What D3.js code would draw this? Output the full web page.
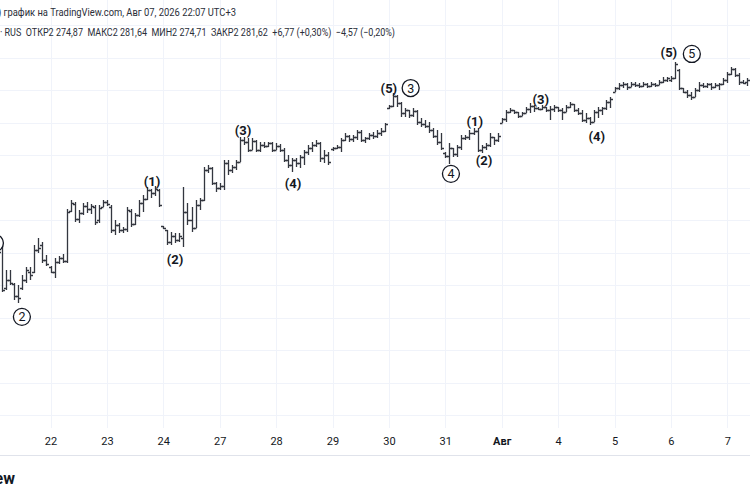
<!DOCTYPE html>
<html>
<head>
<meta charset="utf-8">
<script src="https://cdn.jsdelivr.net/npm/d3@7"></script>
<style>
  body { margin: 0; background: #fff; }
  svg { display: block; font-family: Roboto, "Liberation Sans", sans-serif; }
  .hdr { white-space: pre; }
</style>
</head>
<body>
<div id="chart"></div>
<script>
// hourly OHLC bars, one array per session day: [open, high, low, close]
const jul21 = [
  [2225.2, 2228.3, 2224.6, 2227.7], [2227.7, 2230.8, 2227.1, 2230.2], [2232.3, 2233.9, 2217.8, 2218.5],
  [2219.1, 2224.6, 2218.5, 2221.5], [2221.5, 2224.6, 2220.0, 2220.6], [2220.3, 2220.6, 2215.4, 2216.6],
  [2216.6, 2220.0, 2214.5, 2216.0], [2219.1, 2223.1, 2218.5, 2221.5], [2221.5, 2225.5, 2220.6, 2224.6],
  [2224.0, 2225.5, 2221.5, 2223.1], [2224.0, 2232.3, 2223.7, 2230.8], [2230.8, 2234.5, 2229.8, 2231.4],
  [2232.3, 2233.2, 2226.8, 2227.7], [2227.7, 2229.2, 2225.8, 2226.5]
];
const jul22 = [
  [2225.5, 2225.8, 2223.7, 2224.0], [2224.0, 2228.3, 2222.2, 2227.1], [2227.1, 2228.9, 2226.5, 2228.3],
  [2228.3, 2229.5, 2226.8, 2227.4], [2227.4, 2243.4, 2226.8, 2242.5], [2242.8, 2246.2, 2242.5, 2245.2],
  [2244.9, 2245.5, 2239.4, 2240.3], [2240.3, 2243.1, 2239.1, 2242.2], [2242.2, 2245.2, 2241.5, 2244.3],
  [2244.3, 2245.5, 2242.2, 2243.4], [2243.4, 2244.9, 2241.8, 2244.3], [2244.0, 2244.6, 2238.5, 2239.4],
  [2240.0, 2244.6, 2239.1, 2243.7], [2244.0, 2246.2, 2243.9, 2245.5]
];
const jul23 = [
  [2245.5, 2246.2, 2244.3, 2244.9], [2244.0, 2244.6, 2236.0, 2236.9], [2236.9, 2240.0, 2235.4, 2238.5],
  [2238.5, 2239.1, 2236.0, 2236.9], [2236.9, 2237.8, 2236.0, 2237.2], [2237.2, 2244.0, 2236.3, 2243.1],
  [2242.8, 2243.3, 2237.8, 2238.8], [2238.8, 2242.2, 2238.5, 2241.5], [2241.5, 2246.2, 2240.9, 2245.2],
  [2245.2, 2247.7, 2242.5, 2246.5], [2246.5, 2250.2, 2246.2, 2249.2], [2249.2, 2249.5, 2246.8, 2248.3],
  [2248.3, 2250.5, 2247.4, 2249.5], [2249.2, 2249.5, 2244.0, 2244.6]
];
const jul24 = [
  [2238.1, 2238.3, 2237.2, 2237.5], [2236.9, 2237.0, 2232.3, 2233.2], [2233.2, 2236.3, 2232.3, 2235.1],
  [2235.1, 2236.0, 2232.9, 2233.8], [2233.8, 2236.0, 2233.2, 2235.1], [2234.5, 2250.2, 2231.7, 2242.5],
  [2242.5, 2245.2, 2238.5, 2240.0], [2240.0, 2244.0, 2236.3, 2237.5], [2237.5, 2246.2, 2237.4, 2244.6],
  [2244.6, 2246.8, 2243.1, 2246.2], [2246.2, 2256.3, 2246.0, 2255.4], [2255.4, 2256.9, 2254.5, 2256.0],
  [2256.0, 2256.2, 2250.8, 2251.4], [2251.4, 2251.6, 2248.6, 2249.8]
];
const jul27 = [
  [2249.8, 2251.4, 2249.2, 2250.5], [2250.5, 2258.5, 2249.2, 2257.5], [2257.5, 2258.5, 2253.8, 2255.4],
  [2255.4, 2256.9, 2254.5, 2256.3], [2256.3, 2258.5, 2255.4, 2257.8], [2257.8, 2265.5, 2257.7, 2264.6],
  [2264.6, 2265.5, 2263.1, 2264.0], [2264.0, 2265.2, 2260.9, 2261.5], [2261.5, 2265.2, 2261.4, 2264.3],
  [2264.3, 2264.6, 2260.9, 2261.5], [2261.5, 2264.0, 2260.9, 2263.1], [2263.1, 2264.0, 2262.2, 2262.8],
  [2262.8, 2264.0, 2262.5, 2263.7], [2263.7, 2263.9, 2260.9, 2261.5]
];
const jul28 = [
  [2261.5, 2263.7, 2261.4, 2262.8], [2262.8, 2263.4, 2260.9, 2261.5], [2261.5, 2262.2, 2257.8, 2258.5],
  [2258.5, 2260.0, 2256.0, 2256.9], [2256.9, 2259.1, 2254.8, 2258.5], [2258.5, 2259.1, 2256.3, 2257.5],
  [2257.5, 2260.0, 2256.0, 2259.4], [2259.4, 2261.5, 2256.9, 2260.9], [2260.9, 2263.1, 2260.0, 2262.2],
  [2262.2, 2264.0, 2260.9, 2263.1], [2263.1, 2264.6, 2262.5, 2263.7], [2263.7, 2263.9, 2257.8, 2259.1],
  [2259.1, 2261.5, 2257.5, 2260.0], [2260.0, 2260.9, 2256.9, 2257.8]
];
const jul29 = [
  [2261.8, 2262.5, 2261.2, 2262.2], [2262.2, 2263.1, 2261.8, 2262.5], [2262.5, 2265.2, 2260.9, 2264.6],
  [2264.6, 2266.8, 2264.3, 2265.8], [2265.8, 2266.2, 2264.0, 2264.9], [2264.9, 2266.2, 2264.0, 2265.5],
  [2265.5, 2267.7, 2264.6, 2267.1], [2267.1, 2267.7, 2264.0, 2264.6], [2264.6, 2265.5, 2263.7, 2265.2],
  [2265.2, 2266.8, 2264.6, 2266.2], [2266.2, 2267.1, 2264.9, 2265.8], [2265.8, 2267.7, 2265.2, 2266.8],
  [2266.8, 2268.3, 2265.8, 2267.4], [2267.4, 2269.8, 2267.1, 2269.5]
];
const jul30 = [
  [2274.5, 2275.4, 2274.2, 2275.1], [2275.1, 2279.1, 2274.8, 2278.2], [2278.2, 2278.5, 2274.8, 2276.0],
  [2276.0, 2276.2, 2271.7, 2272.9], [2272.9, 2274.5, 2271.7, 2273.8], [2273.8, 2273.9, 2271.4, 2272.3],
  [2272.3, 2274.5, 2271.7, 2273.5], [2273.5, 2273.8, 2269.2, 2270.2], [2270.2, 2271.4, 2268.6, 2269.5],
  [2269.5, 2270.8, 2268.3, 2268.9], [2268.9, 2270.2, 2266.8, 2267.7], [2267.7, 2268.3, 2265.2, 2265.8],
  [2265.8, 2267.7, 2263.1, 2264.0], [2264.0, 2266.8, 2261.5, 2262.2]
];
const jul31 = [
  [2260.6, 2260.9, 2259.1, 2259.7], [2259.7, 2263.7, 2257.2, 2262.2], [2262.2, 2262.3, 2259.4, 2260.3],
  [2260.3, 2263.1, 2259.4, 2262.5], [2262.5, 2266.2, 2261.5, 2265.2], [2265.2, 2266.2, 2264.6, 2265.5],
  [2265.5, 2267.7, 2264.6, 2266.8], [2266.8, 2268.3, 2266.2, 2267.4], [2267.4, 2268.3, 2260.9, 2261.5],
  [2261.5, 2263.1, 2260.6, 2262.5], [2262.5, 2263.7, 2261.5, 2263.1], [2263.1, 2266.8, 2262.5, 2265.5],
  [2265.5, 2265.6, 2263.1, 2264.6], [2264.6, 2266.8, 2264.0, 2265.8]
];
const aug01 = [
  [2269.8, 2271.4, 2269.7, 2271.1], [2271.1, 2273.8, 2270.2, 2273.2], [2273.2, 2274.5, 2272.9, 2273.8],
  [2273.8, 2273.9, 2272.6, 2273.2], [2273.2, 2273.3, 2271.4, 2272.0], [2272.0, 2273.2, 2271.9, 2272.9],
  [2272.9, 2274.8, 2272.8, 2274.2], [2274.2, 2276.0, 2272.9, 2275.1], [2275.1, 2275.4, 2273.2, 2274.5],
  [2274.5, 2274.8, 2273.8, 2274.2], [2274.2, 2275.4, 2273.8, 2274.8], [2274.8, 2274.9, 2273.2, 2273.8],
  [2273.8, 2275.1, 2270.8, 2274.2], [2274.2, 2275.4, 2273.2, 2274.8]
];
const aug04 = [
  [2274.8, 2274.9, 2273.2, 2273.8], [2273.8, 2274.5, 2270.8, 2273.2], [2273.2, 2275.4, 2273.1, 2274.8],
  [2274.8, 2276.3, 2274.5, 2275.7], [2275.7, 2275.8, 2273.2, 2273.8], [2273.8, 2274.5, 2272.3, 2272.9],
  [2272.9, 2273.8, 2270.2, 2270.8], [2270.8, 2272.9, 2269.8, 2271.4], [2271.4, 2271.7, 2269.2, 2270.2],
  [2270.2, 2273.8, 2270.1, 2273.2], [2273.2, 2274.8, 2271.4, 2273.8], [2273.8, 2274.8, 2272.3, 2274.5],
  [2274.5, 2276.9, 2273.8, 2276.3], [2276.3, 2277.8, 2274.5, 2277.2]
];
const aug05 = [
  [2279.4, 2280.9, 2279.3, 2280.6], [2280.6, 2282.2, 2280.0, 2281.5], [2281.5, 2282.5, 2280.6, 2281.8],
  [2281.8, 2282.2, 2280.0, 2280.9], [2280.9, 2282.5, 2280.8, 2281.8], [2281.8, 2282.5, 2280.9, 2281.5],
  [2281.5, 2282.2, 2280.6, 2281.2], [2281.2, 2282.5, 2280.9, 2281.8], [2281.8, 2282.2, 2280.6, 2281.2],
  [2281.2, 2282.5, 2280.9, 2281.8], [2281.8, 2282.2, 2280.9, 2281.5], [2281.5, 2283.1, 2281.4, 2282.5],
  [2282.5, 2284.0, 2282.2, 2283.1], [2283.1, 2284.0, 2282.5, 2283.7]
];
const aug06 = [
  [2283.1, 2284.3, 2282.5, 2283.7], [2283.7, 2288.6, 2283.4, 2288.0], [2286.2, 2286.5, 2280.0, 2280.6],
  [2280.6, 2280.7, 2279.1, 2279.4], [2279.4, 2280.0, 2277.5, 2278.5], [2278.5, 2279.4, 2276.9, 2277.8],
  [2277.8, 2280.6, 2277.7, 2280.0], [2280.0, 2282.5, 2279.4, 2281.5], [2281.5, 2282.2, 2280.6, 2281.2],
  [2281.2, 2282.2, 2280.6, 2281.8], [2281.8, 2282.2, 2280.0, 2280.9], [2280.9, 2282.2, 2280.6, 2281.5],
  [2281.5, 2282.2, 2280.0, 2281.8], [2281.8, 2283.7, 2281.6, 2283.1]
];
const aug07 = [
  [2283.1, 2285.5, 2282.2, 2284.9], [2284.9, 2287.1, 2284.6, 2286.5], [2286.5, 2286.8, 2284.0, 2284.6],
  [2284.6, 2285.2, 2281.5, 2282.5], [2282.5, 2283.1, 2281.8, 2282.2], [2282.5, 2283.7, 2281.2, 2283.1]
];

const sessions = [jul21, jul22, jul23, jul24, jul27, jul28, jul29, jul30, jul31, aug01, aug04, aug05, aug06, aug07];
const dayLabels = ["21", "22", "23", "24", "27", "28", "29", "30", "31", "Авг", "4", "5", "6", "7"];
const priceGrid = [2180, 2190, 2200, 2210, 2220, 2230, 2240, 2250, 2260, 2270, 2280, 2290, 2300];

// Elliott wave marks: bar position, price of the label centre, text, circled or not
const waveLabels = [
  { i: 0.2,   p: 2232.9, t: "1", circ: true },
  { i: 6.9,   p: 2210.2, t: "2", circ: true },
  { i: 39.2,  p: 2252.0, t: "(1)", circ: false },
  { i: 44.9,  p: 2228.0, t: "(2)", circ: false },
  { i: 61.8,  p: 2267.7, t: "(3)", circ: false },
  { i: 74.2,  p: 2251.4, t: "(4)", circ: false },
  { i: 98.0,  p: 2280.6, t: "(5)", circ: false },
  { i: 103.4, p: 2280.6, t: "3", circ: true },
  { i: 113.4, p: 2254.2, t: "4", circ: true },
  { i: 119.3, p: 2270.5, t: "(1)", circ: false },
  { i: 121.6, p: 2258.5, t: "(2)", circ: false },
  { i: 135.7, p: 2277.2, t: "(3)", circ: false },
  { i: 149.6, p: 2265.8, t: "(4)", circ: false },
  { i: 167.5, p: 2291.7, t: "(5)", circ: false },
  { i: 173.2, p: 2291.1, t: "5", circ: true }
];

const headerLine1 = ") график на TradingView.com, Авг 07, 2026 22:07 UTC+3";
const headerLine2 = "· RUS  ОТКР2 274,87  МАКС2 281,64  МИН2 274,71  ЗАКР2 281,62  +6,77 (+0,30%)  −4,57 (−0,20%)";

const w = 750, h = 500;
const paneBottom = 428;
const ink = "#131722";

let bars = [];
sessions.forEach(function(s) { s.forEach(function(d) { bars.push({ o: d[0], h: d[1], l: d[2], c: d[3] }); }); });
bars.forEach(function(d, i) { d.i = i; });

let dayStarts = [];
let k = 0;
sessions.forEach(function(s) { dayStarts.push(k); k += s.length; });

const svg = d3.select("#chart").append("svg")
    .attr("width", w)
    .attr("height", h);

const x = d3.scaleLinear().domain([0, 14]).range([-5.9, 50.5]);
const y = d3.scaleLinear().domain([2280, 2300]).range([90, 25]);
const crisp = v => Math.round(v) + 0.5;

// grid
svg.append("g").selectAll("line.hg").data(priceGrid).join("line")
    .attr("x1", 0).attr("x2", w)
    .attr("y1", d => crisp(y(d))).attr("y2", d => crisp(y(d)))
    .attr("stroke", "#f0f3fa").attr("stroke-width", 1);

svg.append("g").selectAll("line.vg").data(dayStarts.slice(1)).join("line")
    .attr("x1", d => crisp(x(d))).attr("x2", d => crisp(x(d)))
    .attr("y1", 0).attr("y2", paneBottom)
    .attr("stroke", "#f0f3fa").attr("stroke-width", 1);

// OHLC bars
svg.append("g")
    .attr("fill", "none")
    .attr("stroke", "#33363f")
    .attr("stroke-width", 1.3)
    .selectAll("path").data(bars).join("path")
    .attr("d", function(d) {
        let cx = crisp(x(d.i));
        let yh = Math.round(y(d.h)), yl = Math.round(y(d.l));
        if (yl - yh < 1) yl = yh + 1;
        let yo = crisp(y(d.o)), yc = crisp(y(d.c));
        return "M" + cx + "," + yh + "V" + yl +
               "M" + (cx - 2.5) + "," + yo + "H" + cx +
               "M" + cx + "," + yc + "H" + (cx + 2.5);
    });

// wave labels
const lab = svg.append("g").selectAll("g").data(waveLabels).join("g")
    .attr("transform", d => "translate(" + x(d.i) + "," + y(d.p) + ")");
lab.filter(d => d.circ).append("circle")
    .attr("r", 8.5)
    .attr("fill", "#fff")
    .attr("stroke", ink)
    .attr("stroke-width", 1.3);
lab.append("text")
    .attr("text-anchor", "middle")
    .attr("dy", "0.36em")
    .attr("fill", ink)
    .style("font-size", d => d.circ ? "12.5px" : "13px")
    .style("font-weight", d => d.circ ? "normal" : "bold")
    .text(d => d.t);

// time axis
const xAxis = d3.axisBottom(x)
    .tickValues(dayStarts.slice(1))
    .tickFormat(function(d) { return dayLabels[dayStarts.indexOf(d)]; })
    .tickSize(0)
    .tickPadding(9);
const gx = svg.append("g")
    .attr("transform", "translate(0," + paneBottom + ")")
    .call(xAxis);
gx.select(".domain").remove();
gx.selectAll("text")
    .attr("fill", ink)
    .style("font-size", "11px")
    .style("font-family", "Roboto, sans-serif")
    .style("font-weight", d => dayLabels[dayStarts.indexOf(d)] === "Авг" ? "bold" : "normal");

svg.append("line")
    .attr("x1", 0).attr("x2", w)
    .attr("y1", 455.5).attr("y2", 455.5)
    .attr("stroke", "#e0e3eb");

// header
svg.append("text")
    .attr("class", "hdr")
    .attr("x", -2).attr("y", 16)
    .attr("fill", "#2a2e39")
    .attr("textLength", 238)
    .attr("lengthAdjust", "spacingAndGlyphs")
    .style("font-size", "11px")
    .text(headerLine1);
svg.append("text")
    .attr("class", "hdr")
    .attr("x", 0).attr("y", 36)
    .attr("fill", "#2a2e39")
    .attr("textLength", 395)
    .attr("lengthAdjust", "spacingAndGlyphs")
    .style("font-size", "11px")
    .text(headerLine2);

// logo remnant at bottom left
svg.append("text")
    .attr("x", 15).attr("y", 484)
    .attr("text-anchor", "end")
    .attr("fill", ink)
    .style("font-size", "16px")
    .style("font-weight", "bold")
    .text("TradingView");
</script>
</body>
</html>
